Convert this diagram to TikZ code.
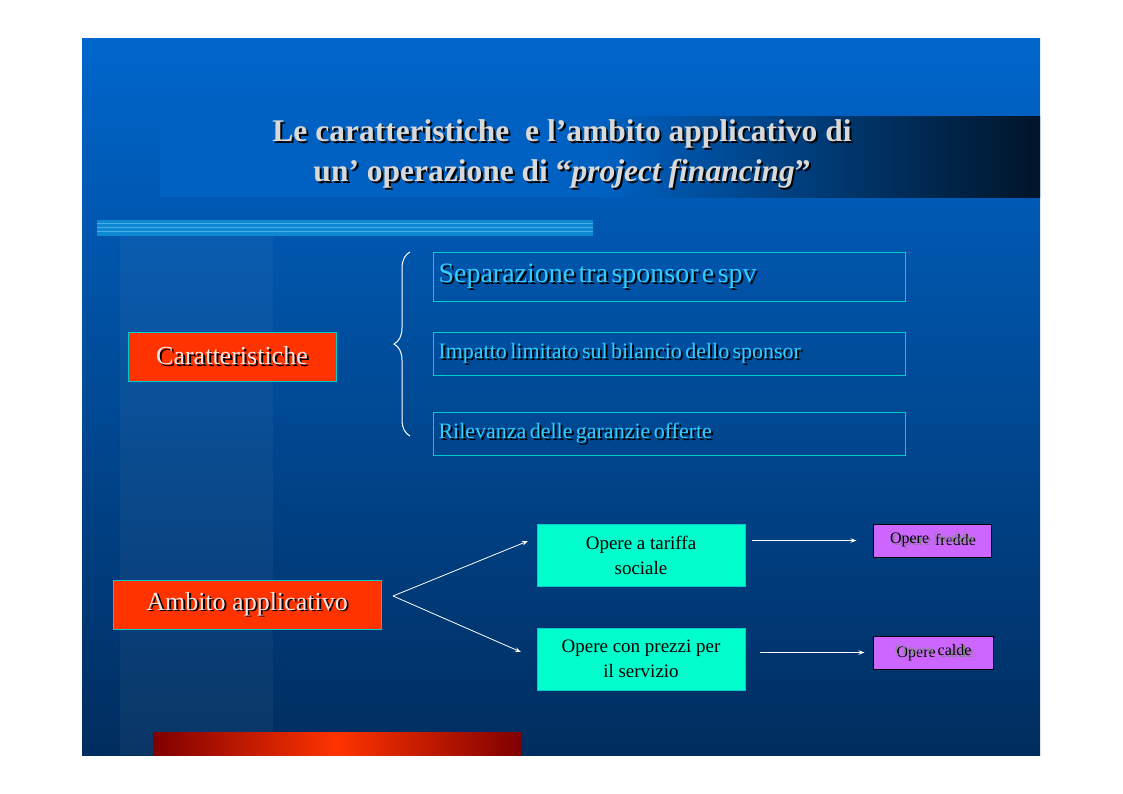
\documentclass[tikz,border=0pt]{standalone}
\usepackage{fontspec}
\setmainfont{Liberation Serif}
\usetikzlibrary{decorations.pathreplacing,arrows.meta}
\definecolor{topblue}{RGB}{0,102,204}
\definecolor{botblue}{RGB}{0,45,95}
\definecolor{lblue}{RGB}{51,204,255}
\definecolor{cyanb}{RGB}{0,204,204}
\definecolor{aqua}{RGB}{0,255,204}
\definecolor{purp}{RGB}{204,102,255}
\definecolor{redbox}{RGB}{255,51,0}
\tikzset{
  redbox/.style={draw=cyanb,line width=1pt,fill=redbox,inner sep=0pt},
  outbox/.style={draw=cyanb,line width=1pt,inner sep=0pt},
  aquabox/.style={draw=cyanb,fill=aqua,inner sep=0pt,align=center,font=\fontsize{19}{25}\selectfont},
  purpbox/.style={draw=black,line width=1pt,fill=purp,inner sep=0pt,font=\fontsize{16}{18}\selectfont},
  arr/.style={white,line width=0.8pt,-{Stealth[length=6pt]}}
}
\newcommand{\shtxt}[3]{\rlap{\raisebox{-1.5pt}{\hspace{2pt}\textcolor{#1}{#3}}}\textcolor{#2}{#3}}
\begin{document}
\begin{tikzpicture}[x=1pt,y=-1pt]
\useasboundingbox (0,0) rectangle (1123,793);
\fill[white] (0,0) rectangle (1123,793);
\shade[top color=topblue,bottom color=botblue] (82,38) rectangle (1040,755);
\fill[white,opacity=0.04] (120,235) rectangle (273,755);
\fill[topblue!95!black] (160,116) rectangle (600,197);
\shade[left color=topblue!95!black,right color=black!80!topblue] (600,116) rectangle (1040,197);
\fill[cyan!70!blue] (97,220) rectangle (593,236);
\foreach \y in {223,227,231} \draw[cyan!50!white,opacity=0.5,line width=0.6pt] (97,\y) -- (593,\y);
\shade[left color=red!50!black,right color=red!50!black,middle color=redbox] (153,732) rectangle (521,755);
% title
\node[font=\bfseries\fontsize{31.5}{40}\selectfont,align=center] (title) at (562,155)
 {\shtxt{black}{black!15}{Le caratteristiche\ \ e l’ambito applicativo di}\\
  \shtxt{black}{black!15}{un’ operazione di “\textit{project financing}”}};
% left boxes
\node[redbox,minimum width=208,minimum height=49] (car) at (232,356.5)
 {\fontsize{26}{30}\selectfont\shtxt{black}{white!90!red}{Caratteristiche}};
\node[redbox,minimum width=268,minimum height=49] (amb) at (247,604.5)
 {\fontsize{26}{30}\selectfont\shtxt{black}{white!90!red}{Ambito applicativo}};
% brace
\draw[white,line width=1pt,decorate,decoration={brace,amplitude=16pt,aspect=0.5}]
 (410,436) -- (410,252);
% right boxes
\node[outbox,minimum width=472,minimum height=49,anchor=north west,text width=462,align=left] (b1) at (433,252)
 {\fontsize{28}{32}\selectfont\shtxt{black}{lblue}{Separazione tra sponsor e spv}};
\node[outbox,minimum width=472,minimum height=43,anchor=north west,text width=462,align=left] (b2) at (433,332)
 {\fontsize{22}{26}\selectfont\shtxt{black}{lblue}{Impatto limitato sul bilancio dello sponsor}};
\node[outbox,minimum width=472,minimum height=43,anchor=north west,text width=462,align=left] (b3) at (433,412)
 {\fontsize{22}{26}\selectfont\shtxt{black}{lblue}{Rilevanza delle garanzie offerte}};
% aqua boxes
\node[aquabox,minimum width=208,minimum height=62] (t1) at (641,555) {Opere a tariffa\\sociale};
\node[aquabox,minimum width=208,minimum height=62] (t2) at (641,659) {Opere con prezzi per\\il servizio};
% purple boxes
\node[purpbox,minimum width=118,minimum height=33] (p1) at (932,540.5)
 {\shtxt{black!50}{black}{Opere} \shtxt{black}{black!45}{fredde}};
\node[purpbox,minimum width=120,minimum height=33] (p2) at (933,652.5)
 {\shtxt{black}{black!45}{Opere} \shtxt{black!50}{black}{calde}};
% arrows
\coordinate (split) at (393,596);
\draw[arr] (split) -- (528,541);
\draw[arr] (split) -- (521,652);
\draw[arr] ([xshift=7pt]t1.east |- p1.west) -- ([xshift=-16pt]p1.west);
\draw[arr] ([xshift=15pt]t2.east |- p2.west) -- ([xshift=-8pt]p2.west);
\end{tikzpicture}
\end{document}
